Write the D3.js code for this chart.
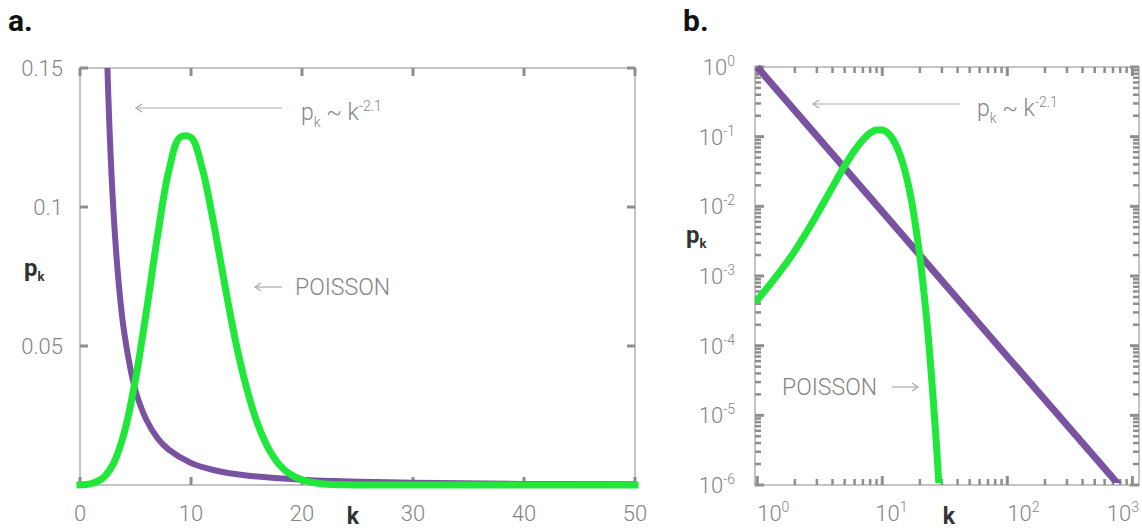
<!DOCTYPE html>
<html>
<head>
<meta charset="utf-8">
<script src="https://cdn.jsdelivr.net/npm/d3@7"></script>
<style>
  body { margin: 0; background: #fff; }
  text { font-family: Roboto, "Open Sans", sans-serif; }
</style>
</head>
<body>
<div id="chart"></div>
<script>
// values

// panel a (linear axes)
const poissonK_a = [0,1,2,3,4,5,6,7,8,9,10,11,12,13,14,15,16,17,18,19,20,21,22,24,26,30,35,40,45,50];
const poissonP_a = [0.00005,0.0005,0.0023,0.0076,0.019,0.038,0.063,0.090,0.113,0.125,0.125,0.114,0.095,0.073,0.052,0.035,0.022,0.013,0.0071,0.0037,0.0019,0.0009,0.0004,0.0001,0,0,0,0,0,0];
const powerK_a = [2,2.5,3,3.5,4,5,6,7,8,10,12,15,20,25,30,40,50];
const powerP_a = [0.233,0.146,0.0995,0.072,0.0544,0.034,0.0233,0.0168,0.0127,0.0079,0.0054,0.0034,0.0019,0.0012,0.0008,0.0004,0.00027];
const xTicks_a = [0,10,20,30,40,50];
const yTicks_a = [0.05,0.1,0.15];
const yTickLabels_a = ["0.05","0.1","0.15"];

// panel b (log-log axes)
const poissonK_b = [1,2,3,4,5,6,7,8,9,10,11,12,13,14,15,16,17,18,19,20,21,22,23,24,25,26,27,28,29];
const poissonP_b = [0.00045,0.0023,0.0076,0.019,0.038,0.063,0.090,0.113,0.125,0.125,0.114,0.095,0.073,0.052,0.035,0.022,0.013,0.0071,0.0037,0.0019,0.00089,0.00040,0.00018,0.000073,0.000029,0.000011,0.0000042,0.0000015,0.00000052];
const powerK_b = [1,10,100,1000];
const powerP_b = [1,0.0084,0.00007,0.0000006];
const xDecades_b = [0,1,2,3];
const yDecades_b = [0,-1,-2,-3,-4,-5,-6];

const W = 1142, H = 531;
const green = "#1fe83a", purple = "#7a52a2";
const axisCol = "#c4c4c4", tickCol = "#8e8e8e", labCol = "#858585";

const svg = d3.select("#chart").append("svg")
    .attr("width", W).attr("height", H);

// ---------- panel a ----------
const xa = d3.scaleLinear().domain([0, 50]).range([80, 635]);
const ya = d3.scaleLinear().domain([0, 0.15]).range([485, 68]);

const ga = svg.append("g");
ga.append("clipPath").attr("id", "clipA")
    .append("rect").attr("x", xa(0) - 10).attr("y", ya(0.15))
    .attr("width", xa(50) - xa(0) + 20).attr("height", ya(0) - ya(0.15) + 6);

// frame
ga.append("rect")
    .attr("x", xa(0)).attr("y", ya(0.15))
    .attr("width", xa(50) - xa(0)).attr("height", ya(0) - ya(0.15))
    .attr("fill", "none").attr("stroke", axisCol).attr("stroke-width", 2);

// inward ticks on all four sides
xTicks_a.forEach(v => {
    ga.append("line").attr("x1", xa(v)).attr("x2", xa(v))
        .attr("y1", ya(0)).attr("y2", ya(0) - 8)
        .attr("stroke", tickCol).attr("stroke-width", 3);
    ga.append("line").attr("x1", xa(v)).attr("x2", xa(v))
        .attr("y1", ya(0.15)).attr("y2", ya(0.15) + 8)
        .attr("stroke", tickCol).attr("stroke-width", 3);
});
[0].concat(yTicks_a).forEach(v => {
    ga.append("line").attr("x1", xa(0)).attr("x2", xa(0) + 8)
        .attr("y1", ya(v)).attr("y2", ya(v))
        .attr("stroke", tickCol).attr("stroke-width", 3);
    ga.append("line").attr("x1", xa(50)).attr("x2", xa(50) - 8)
        .attr("y1", ya(v)).attr("y2", ya(v))
        .attr("stroke", tickCol).attr("stroke-width", 3);
});

// tick labels
ga.selectAll(".xl").data(xTicks_a).enter().append("text")
    .attr("x", d => xa(d)).attr("y", 521)
    .attr("text-anchor", "middle").attr("font-size", 22).attr("font-weight", 300)
    .attr("fill", labCol).text(d => d);
ga.selectAll(".yl").data(yTicks_a).enter().append("text")
    .attr("x", 63).attr("y", d => ya(d) + 8)
    .attr("text-anchor", "end").attr("font-size", 22).attr("font-weight", 300)
    .attr("fill", labCol).text((d, i) => yTickLabels_a[i]);

// curves
const lineA = d3.line().curve(d3.curveCatmullRom.alpha(0.5))
    .x(d => xa(d[0])).y(d => ya(d[1]));
ga.append("path").attr("clip-path", "url(#clipA)")
    .attr("d", lineA(powerK_a.map((k, i) => [k, powerP_a[i]])))
    .attr("fill", "none").attr("stroke", purple).attr("stroke-width", 6);
ga.append("path").attr("clip-path", "url(#clipA)")
    .attr("d", lineA(poissonK_a.map((k, i) => [k, poissonP_a[i]])))
    .attr("fill", "none").attr("stroke", green).attr("stroke-width", 7)
    .attr("stroke-linecap", "square");

// annotations
ga.append("line").attr("x1", 136).attr("x2", 282).attr("y1", 108).attr("y2", 108)
    .attr("stroke", "#aaa").attr("stroke-width", 1.2);
ga.append("path").attr("d", "M142,104 L136,108 L142,112").attr("fill", "none")
    .attr("stroke", "#aaa").attr("stroke-width", 1.2);
const ta = ga.append("text").attr("x", 301).attr("y", 120)
    .attr("font-size", 23).attr("font-weight", 300).attr("fill", labCol);
ta.append("tspan").text("p");
ta.append("tspan").attr("dy", 7).attr("font-size", 14).text("k");
ta.append("tspan").attr("dy", -7).text(" ~ k");
ta.append("tspan").attr("dy", -9).attr("font-size", 14).text("-2.1");

ga.append("line").attr("x1", 255).attr("x2", 282).attr("y1", 287).attr("y2", 287)
    .attr("stroke", "#aaa").attr("stroke-width", 1.2);
ga.append("path").attr("d", "M261,283 L255,287 L261,291").attr("fill", "none")
    .attr("stroke", "#aaa").attr("stroke-width", 1.2);
ga.append("text").attr("x", 295).attr("y", 295)
    .attr("font-size", 23).attr("font-weight", 300).attr("fill", labCol).text("POISSON");

// axis titles
const pa = ga.append("text").attr("x", 24).attr("y", 276)
    .attr("font-size", 24).attr("font-weight", 700).attr("fill", "#333");
pa.append("tspan").text("p");
pa.append("tspan").attr("dy", 5).attr("font-size", 13).text("k");
ga.append("text").attr("x", 353).attr("y", 524).attr("text-anchor", "middle")
    .attr("font-size", 23).attr("font-weight", 700).attr("fill", "#333").text("k");
ga.append("text").attr("x", 8).attr("y", 31)
    .attr("font-family", "'Liberation Sans', Arial, sans-serif")
    .attr("font-size", 30).attr("font-weight", 700).attr("fill", "#111").text("a.");

// ---------- panel b ----------
const xb = d3.scaleLog().domain([0.96, 1130]).range([755, 1139]);
const yb = d3.scaleLog().domain([1e-6, 1]).range([485, 67]);
const [bx0, bx1] = xb.range();
const [by0, by1] = yb.range();

const gb = svg.append("g");
gb.append("clipPath").attr("id", "clipB")
    .append("rect").attr("x", bx0).attr("y", by1 - 6)
    .attr("width", bx1 - bx0).attr("height", by0 - by1 + 4);

gb.append("rect")
    .attr("x", bx0).attr("y", by1)
    .attr("width", bx1 - bx0).attr("height", by0 - by1)
    .attr("fill", "none").attr("stroke", axisCol).attr("stroke-width", 2);

// major + minor ticks
const xTickVals_b = [], yTickVals_b = [];
xDecades_b.forEach(e => {
    for (let m = 1; m <= 9; m++) {
        const v = m * Math.pow(10, e);
        if (v >= xb.domain()[0] && v <= xb.domain()[1]) xTickVals_b.push([v, m === 1]);
    }
});
yDecades_b.forEach(e => {
    for (let m = 1; m <= 9; m++) {
        const v = m * Math.pow(10, e);
        if (v >= 1e-6 && v <= 1) yTickVals_b.push([v, m === 1]);
    }
});
xTickVals_b.forEach(([v, major]) => {
    const len = major ? 9 : 6;
    gb.append("line").attr("x1", xb(v)).attr("x2", xb(v))
        .attr("y1", by0).attr("y2", by0 - len)
        .attr("stroke", tickCol).attr("stroke-width", major ? 3 : 2.5);
    gb.append("line").attr("x1", xb(v)).attr("x2", xb(v))
        .attr("y1", by1).attr("y2", by1 + len)
        .attr("stroke", tickCol).attr("stroke-width", major ? 3 : 2.5);
});
yTickVals_b.forEach(([v, major]) => {
    const len = major ? 9 : 6;
    gb.append("line").attr("x1", bx0).attr("x2", bx0 + len)
        .attr("y1", yb(v)).attr("y2", yb(v))
        .attr("stroke", tickCol).attr("stroke-width", major ? 3 : 2.5);
    gb.append("line").attr("x1", bx1).attr("x2", bx1 - len)
        .attr("y1", yb(v)).attr("y2", yb(v))
        .attr("stroke", tickCol).attr("stroke-width", major ? 3 : 2.5);
});

// tick labels with superscripts
xDecades_b.forEach((e, i) => {
    const last = i === xDecades_b.length - 1;
    const t = gb.append("text")
        .attr("x", last ? bx1 : xb(Math.pow(10, e)) - (e === 1 ? 7 : 0))
        .attr("y", 521)
        .attr("text-anchor", last ? "end" : "start")
        .attr("font-size", 22).attr("font-weight", 300).attr("fill", labCol);
    t.append("tspan").text("10");
    t.append("tspan").attr("dy", -9).attr("font-size", 14).text(e);
});
yDecades_b.forEach(e => {
    const t = gb.append("text").attr("x", 735).attr("y", yb(Math.pow(10, e)) + 8)
        .attr("text-anchor", "end")
        .attr("font-size", 22).attr("font-weight", 300).attr("fill", labCol);
    t.append("tspan").text("10");
    t.append("tspan").attr("dy", -9).attr("font-size", 14).text(e);
});

// curves
const lineB = d3.line().x(d => xb(d[0])).y(d => yb(d[1]));
gb.append("path").attr("clip-path", "url(#clipB)")
    .attr("d", lineB(powerK_b.map((k, i) => [k, powerP_b[i]])))
    .attr("fill", "none").attr("stroke", purple).attr("stroke-width", 7);
gb.append("path").attr("clip-path", "url(#clipB)")
    .attr("d", lineB.curve(d3.curveMonotoneX)(poissonK_b.map((k, i) => [k, poissonP_b[i]])))
    .attr("fill", "none").attr("stroke", green).attr("stroke-width", 7)
    .attr("stroke-linecap", "round");

// annotations
gb.append("line").attr("x1", 813).attr("x2", 960).attr("y1", 104).attr("y2", 104)
    .attr("stroke", "#aaa").attr("stroke-width", 1.2);
gb.append("path").attr("d", "M819,100 L813,104 L819,108").attr("fill", "none")
    .attr("stroke", "#aaa").attr("stroke-width", 1.2);
const tb = gb.append("text").attr("x", 977).attr("y", 116)
    .attr("font-size", 23).attr("font-weight", 300).attr("fill", labCol);
tb.append("tspan").text("p");
tb.append("tspan").attr("dy", 7).attr("font-size", 14).text("k");
tb.append("tspan").attr("dy", -7).text(" ~ k");
tb.append("tspan").attr("dy", -9).attr("font-size", 14).text("-2.1");

gb.append("text").attr("x", 782).attr("y", 395)
    .attr("font-size", 23).attr("font-weight", 300).attr("fill", labCol).text("POISSON");
gb.append("line").attr("x1", 892).attr("x2", 918).attr("y1", 387).attr("y2", 387)
    .attr("stroke", "#aaa").attr("stroke-width", 1.2);
gb.append("path").attr("d", "M912,383 L918,387 L912,391").attr("fill", "none")
    .attr("stroke", "#aaa").attr("stroke-width", 1.2);

const pb = gb.append("text").attr("x", 686).attr("y", 243)
    .attr("font-size", 24).attr("font-weight", 700).attr("fill", "#333");
pb.append("tspan").text("p");
pb.append("tspan").attr("dy", 5).attr("font-size", 13).text("k");
gb.append("text").attr("x", 949).attr("y", 524).attr("text-anchor", "middle")
    .attr("font-size", 23).attr("font-weight", 700).attr("fill", "#333").text("k");
gb.append("text").attr("x", 683).attr("y", 31)
    .attr("font-family", "'Liberation Sans', Arial, sans-serif")
    .attr("font-size", 30).attr("font-weight", 700).attr("fill", "#111").text("b.");
</script>
</body>
</html>
